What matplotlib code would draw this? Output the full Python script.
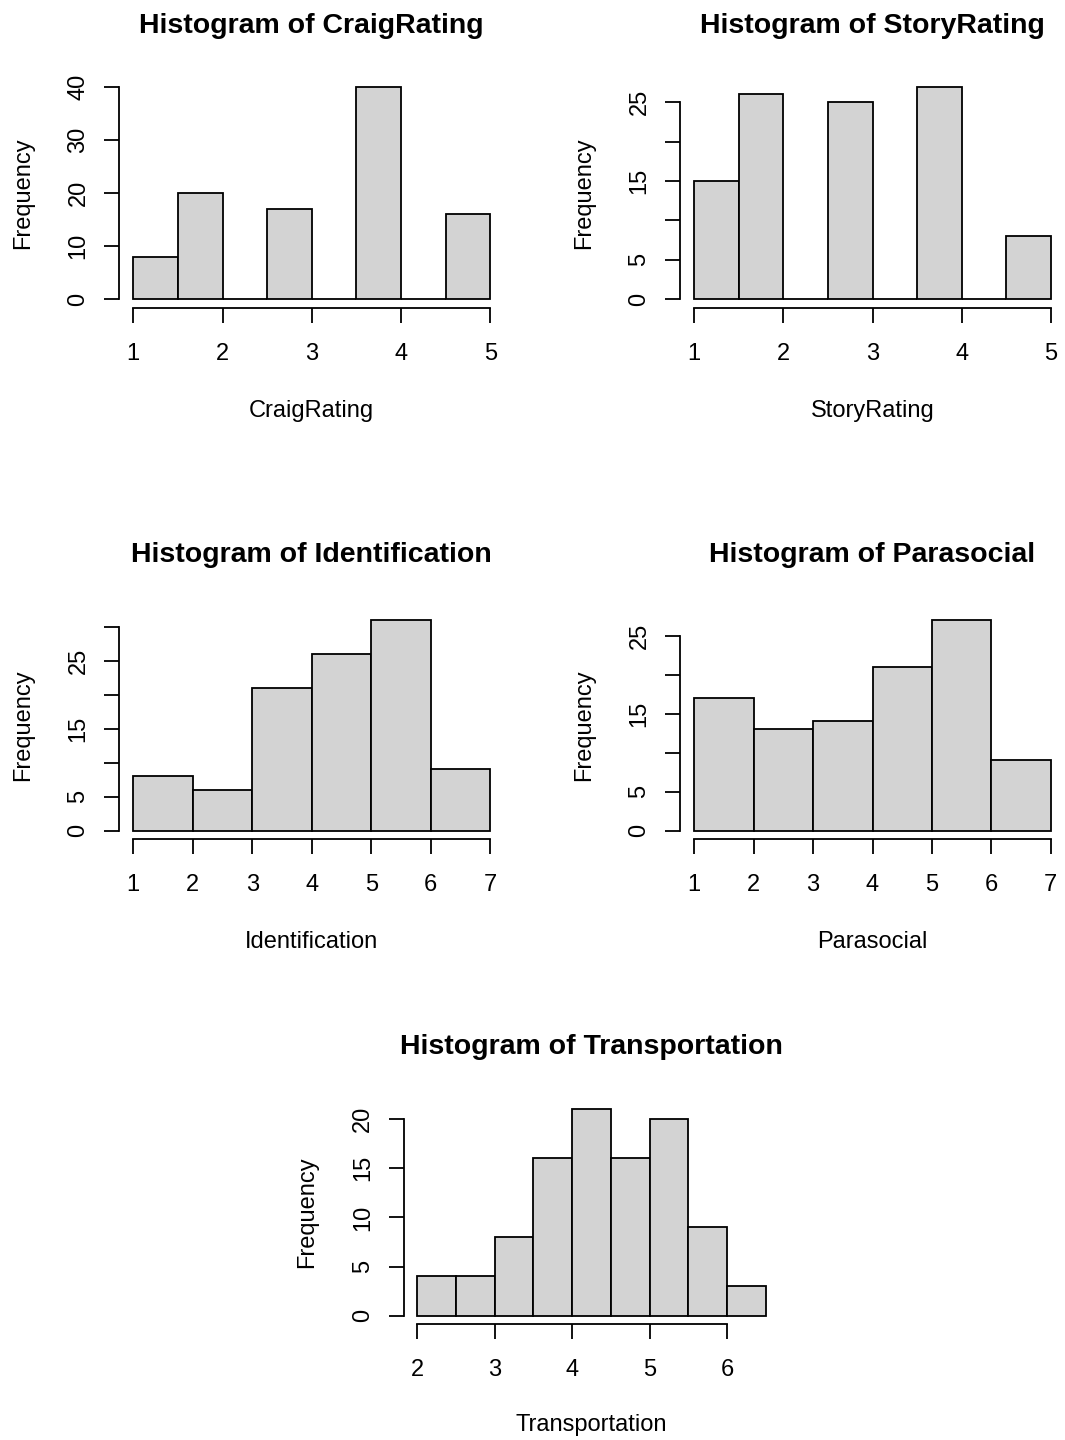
import matplotlib
matplotlib.use('Agg')
import matplotlib.pyplot as plt
import numpy as np

plt.rcParams['font.family'] = ['Liberation Sans', 'DejaVu Sans']

W, H = 1065, 1440

# histogram data (bin edges and counts)
craig_edges = [1, 1.5, 2, 2.5, 3, 3.5, 4, 4.5, 5]
craig_counts = [8, 20, 0, 17, 0, 40, 0, 16]
craig_yticks = [0, 10, 20, 30, 40]
craig_ylabels = ['0', '10', '20', '30', '40']

story_edges = [1, 1.5, 2, 2.5, 3, 3.5, 4, 4.5, 5]
story_counts = [15, 26, 0, 25, 0, 27, 0, 8]
story_yticks = [0, 5, 10, 15, 20, 25]
story_ylabels = ['0', '5', '', '15', '', '25']

ident_edges = [1, 2, 3, 4, 5, 6, 7]
ident_counts = [8, 6, 21, 26, 31, 9]
ident_yticks = [0, 5, 10, 15, 20, 25, 30]
ident_ylabels = ['0', '5', '', '15', '', '25', '']

para_edges = [1, 2, 3, 4, 5, 6, 7]
para_counts = [17, 13, 14, 21, 27, 9]
para_yticks = [0, 5, 10, 15, 20, 25]
para_ylabels = ['0', '5', '', '15', '', '25']

trans_edges = [2, 2.5, 3, 3.5, 4, 4.5, 5, 5.5, 6, 6.5]
trans_counts = [4, 4, 8, 16, 21, 16, 20, 9, 3]
trans_yticks = [0, 5, 10, 15, 20]
trans_ylabels = ['0', '5', '10', '15', '20']

rating_xticks = [1, 2, 3, 4, 5]
scale_xticks = [1, 2, 3, 4, 5, 6, 7]
trans_xticks = [2, 3, 4, 5, 6]

fig = plt.figure(figsize=(W / 100, H / 100), dpi=100)


def panel(box, title_y, xlab_y, name, edges, counts, xticks, yticks, ylabels):
    # box is (left, top, right, bottom) of the plot region in pixels
    l, t, r, b = box
    ax = fig.add_axes([l / W, 1 - b / H, (r - l) / W, (b - t) / H])
    edges = np.array(edges, dtype=float)
    ax.bar(edges[:-1], counts, width=np.diff(edges), align='edge',
           color='#d3d3d3', edgecolor='black', linewidth=1.3)
    xr = edges[-1] - edges[0]
    ax.set_xlim(edges[0] - 0.04 * xr, edges[-1] + 0.04 * xr)
    ym = max(counts)
    ax.set_ylim(-0.04 * ym, ym * 1.04)
    for s in ['top', 'right']:
        ax.spines[s].set_visible(False)
    ax.spines['left'].set_bounds(yticks[0], yticks[-1])
    ax.spines['bottom'].set_bounds(xticks[0], xticks[-1])
    for s in ['left', 'bottom']:
        ax.spines[s].set_linewidth(1.3)
    ax.set_xticks(xticks)
    ax.set_xticklabels([str(x) for x in xticks])
    ax.set_yticks(yticks)
    ax.set_yticklabels(ylabels, rotation=90, va='center')
    ax.tick_params(length=10.8, width=1.3, labelsize=17)
    ax.tick_params(axis='x', pad=14.5)
    ax.tick_params(axis='y', pad=10.5)
    ax.set_facecolor('none')
    cx = (l + r) / 2
    fig.text(cx / W, 1 - title_y / H, 'Histogram of ' + name,
             ha='center', va='baseline', fontsize=20.5, fontweight='bold')
    fig.text(cx / W, 1 - xlab_y / H, name, ha='center', va='baseline',
             fontsize=17)
    fig.text((l - 96) / W, 1 - (t + b) / 2 / H, 'Frequency', ha='center',
             va='center', rotation=90, fontsize=17)
    return ax


panel((119, 78, 504.5, 307.5), 33, 416.5, 'CraigRating',
      craig_edges, craig_counts, rating_xticks, craig_yticks, craig_ylabels)
panel((680, 78, 1065, 307.5), 33, 416.5, 'StoryRating',
      story_edges, story_counts, rating_xticks, story_yticks, story_ylabels)
panel((119, 611.5, 504.5, 839), 562, 948, 'Identification',
      ident_edges, ident_counts, scale_xticks, ident_yticks, ident_ylabels)
panel((680, 611.5, 1065, 839), 562, 948, 'Parasocial',
      para_edges, para_counts, scale_xticks, para_yticks, para_ylabels)
panel((403.5, 1101, 779.5, 1324), 1054, 1430.5, 'Transportation',
      trans_edges, trans_counts, trans_xticks, trans_yticks, trans_ylabels)

fig.savefig('out.png', dpi=100, facecolor='white')
